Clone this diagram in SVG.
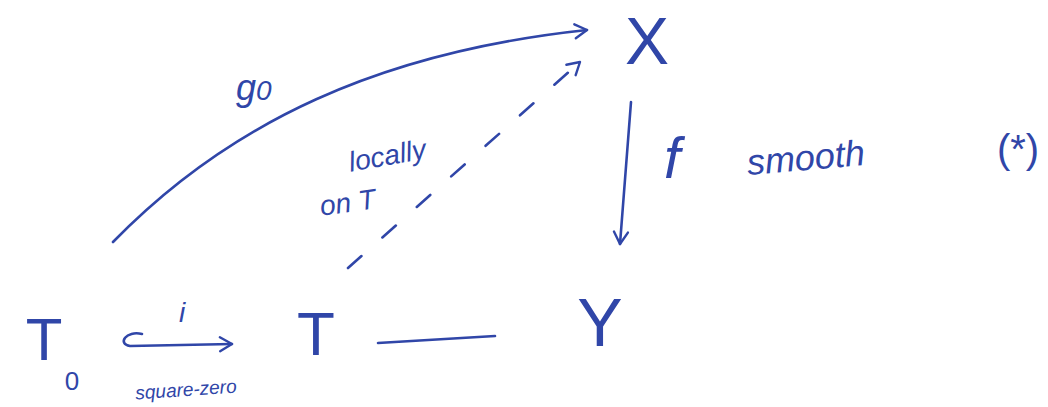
<svg xmlns="http://www.w3.org/2000/svg" width="1048" height="407" viewBox="0 0 1048 407">
<style>
.ink{fill:none;stroke:#3046a8;stroke-width:2.6;stroke-linecap:round;stroke-linejoin:round}
.t{fill:#3046a8;font-family:"Liberation Sans","DejaVu Sans",sans-serif}
.it{font-style:italic}
</style>
<defs>
<marker id="ah" markerUnits="userSpaceOnUse" markerWidth="20" markerHeight="20" refX="14" refY="8" orient="auto" viewBox="0 0 20 16">
<path d="M2,1 L14,8 L2,15" fill="none" stroke="#3046a8" stroke-width="2.4" stroke-linecap="round" stroke-linejoin="round"/>
</marker>
</defs>
<rect width="1048" height="407" fill="#ffffff"/>
<g id="connectors">
<path id="e-g0" class="ink" d="M113,242 C230,122 380,52 587,30" marker-end="url(#ah)"/>
<path id="e-lift" class="ink" d="M348,268 L580,62" stroke-dasharray="18 28" marker-end="url(#ah)"/>
<path id="e-f" class="ink" d="M631,102 L620,244" marker-end="url(#ah)"/>
<path id="e-i" class="ink" d="M142,334 C126,330 117,344 130,346 L232,344" marker-end="url(#ah)"/>
<path id="e-TY" class="ink" d="M378,343 L495,336"/>
</g>
<g id="node-X"><text class="t" x="647" y="64" font-size="66" text-anchor="middle">X</text></g>
<g id="node-Y"><text class="t" x="600" y="346" font-size="68" text-anchor="middle">Y</text></g>
<g id="node-T"><text class="t" x="316" y="355" font-size="62" text-anchor="middle">T</text></g>
<g id="node-T0"><text class="t" x="44" y="360" font-size="60" text-anchor="middle">T</text><text class="t" x="72" y="390" font-size="26" text-anchor="middle">0</text></g>
<g id="labels">
<text class="t it" x="182" y="322" font-size="28" text-anchor="middle">i</text>
<text class="t it" x="186" y="396" font-size="19" text-anchor="middle" transform="rotate(-4 186 390)">square-zero</text>
<text class="t it" x="236" y="100" font-size="36">g<tspan font-size="28">0</tspan></text>
<text class="t it" x="388" y="165" font-size="28" text-anchor="middle" transform="rotate(-10 388 160)">locally</text>
<text class="t it" x="348" y="212" font-size="28" text-anchor="middle" transform="rotate(-8 348 205)">on T</text>
<text class="t it" x="672" y="178" font-size="58" text-anchor="middle">f</text>
<text class="t it" x="806" y="170" font-size="36" text-anchor="middle" transform="rotate(-5 806 160)">smooth</text>
<text class="t" x="1018" y="163" font-size="40" text-anchor="middle">(*)</text>
</g>
</svg>
